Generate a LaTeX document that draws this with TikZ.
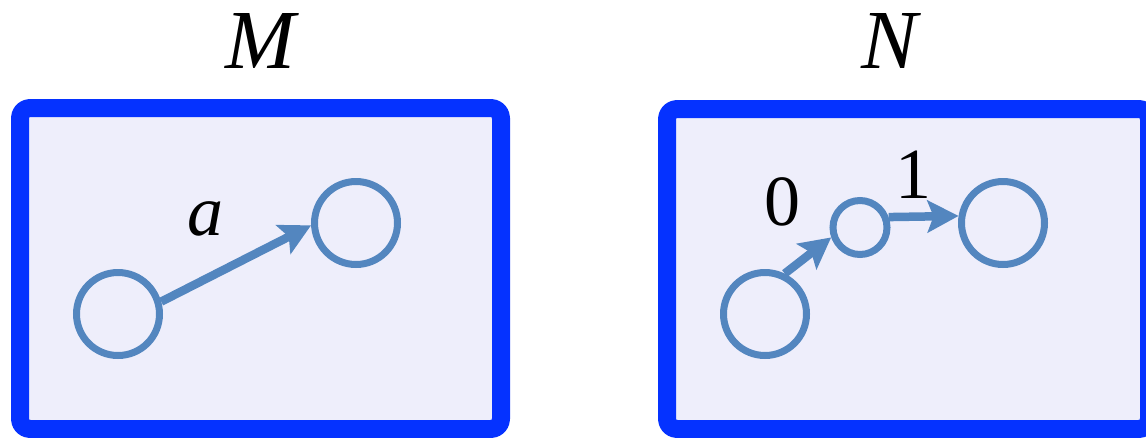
\documentclass[tikz,border=0pt]{standalone}
\usepackage{fontspec}
\setmainfont{Liberation Serif}
\usetikzlibrary{arrows.meta}
\definecolor{frameblue}{HTML}{0532FF}
\definecolor{framefill}{HTML}{EEEEFB}
\definecolor{stateblue}{HTML}{5386BF}

\begin{document}
\begin{tikzpicture}[
    x=1pt, y=-1pt,
    frame/.style={draw=frameblue, fill=framefill, line width=18pt, rounded corners=10pt, line join=round, inner sep=0pt},
    state/.style={circle, draw=stateblue, line width=7pt, inner sep=0pt, minimum size=83pt},
    ministate/.style={state, minimum size=54pt},
    framename/.style={font=\fontsize{84}{90}\selectfont\itshape, anchor=base, inner sep=0pt},
    edgelabel/.style={font=\fontsize{72}{80}\selectfont, inner sep=0pt},
    edge/.style={line width=8.5pt, draw=stateblue, -{Stealth[length=31pt,width=32pt,inset=6pt]}}
]
\useasboundingbox (0,0) rectangle (1146,437);
\clip (0,0) rectangle (1146,437);
% frames
\node[frame, minimum width=481pt, minimum height=321pt] (boxM) at (260.5,268.5) {};
\node[frame, minimum width=482pt, minimum height=320pt] (boxN) at (908,269) {};
\node[framename] (nameM) at (260,68) {M};
\node[framename] (nameN) at (890,68) {N};
% machine M
\node[state] (m1) at (118,314) {};
\node[state] (m2) at (356,223) {};
\draw[edge] (m1.16) -- (m2.183);
\node[edgelabel, font=\fontsize{72}{80}\selectfont\itshape] (la) at (205,219) {a};
% machine N
\node[state] (n1) at (765,314) {};
\node[ministate] (n2) at (860,227.5) {};
\node[state] (n3) at (1003,223) {};
\draw[edge] (n1.64) -- (n2.199);
\draw[edge] (n2.20) -- (n3.171);
\node[edgelabel] (l0) at (782,202) {0};
\node[edgelabel] (l1) at (913,175) {1};
\end{tikzpicture}
\end{document}
